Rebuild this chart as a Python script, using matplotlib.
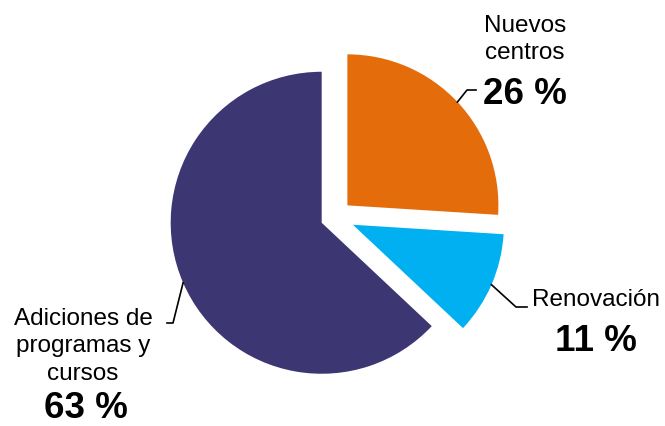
import numpy as np
import matplotlib.pyplot as plt

plt.rcParams['font.family'] = ['Liberation Sans', 'DejaVu Sans']

labels = ["Nuevos\ncentros", "Renovación", "Adiciones de\nprogramas y\ncursos"]
values = [26, 11, 63]
pct_labels = ["26 %", "11 %", "63 %"]
colors = ["#E46C0A", "#00B0F0", "#3C3673"]

fig = plt.figure(figsize=(6.65, 4.26), dpi=100)
ax = fig.add_axes([0, 0, 1, 1])

# pie laid out in pixel-like data units (y up); explode is absolute here
radius = 151
center = (335, 209)
explode = [17, 19.5, 14.5]
wedges, _ = ax.pie(values, colors=colors, startangle=90, counterclock=False,
                   explode=explode, center=center, radius=radius,
                   wedgeprops=dict(linewidth=0))

# label text positions and leader elbows
name_pos = [(525, 411, 'top'), (596, 120, 'baseline'), (83, 118, 'top')]
pct_pos = [(525, 349, 'top'), (596, 75, 'baseline'), (86, 8, 'baseline')]
elbows = [[(467, 336), (476, 336)], [(516, 119), (527, 119)], [(173, 103), (167, 103)]]

for w, name, pct, npos, ppos, elb in zip(wedges, labels, pct_labels, name_pos, pct_pos, elbows):
    mid = np.deg2rad((w.theta1 + w.theta2) / 2)
    cx, cy = w.center
    start = (cx + w.r * np.cos(mid), cy + w.r * np.sin(mid))
    xs = [start[0]] + [p[0] for p in elb]
    ys = [start[1]] + [p[1] for p in elb]
    ax.plot(xs, ys, color='black', lw=1.2)
    ax.text(npos[0], npos[1], name, ha='center', va=npos[2], fontsize=17.5,
            multialignment='center', linespacing=1.32)
    ax.text(ppos[0], ppos[1], pct, ha='center', va=ppos[2], fontsize=26.5,
            fontweight='bold')

ax.set_xlim(0, 665)
ax.set_ylim(0, 426)
ax.set_aspect('auto')
ax.axis('off')

fig.savefig('out.png', dpi=100)
